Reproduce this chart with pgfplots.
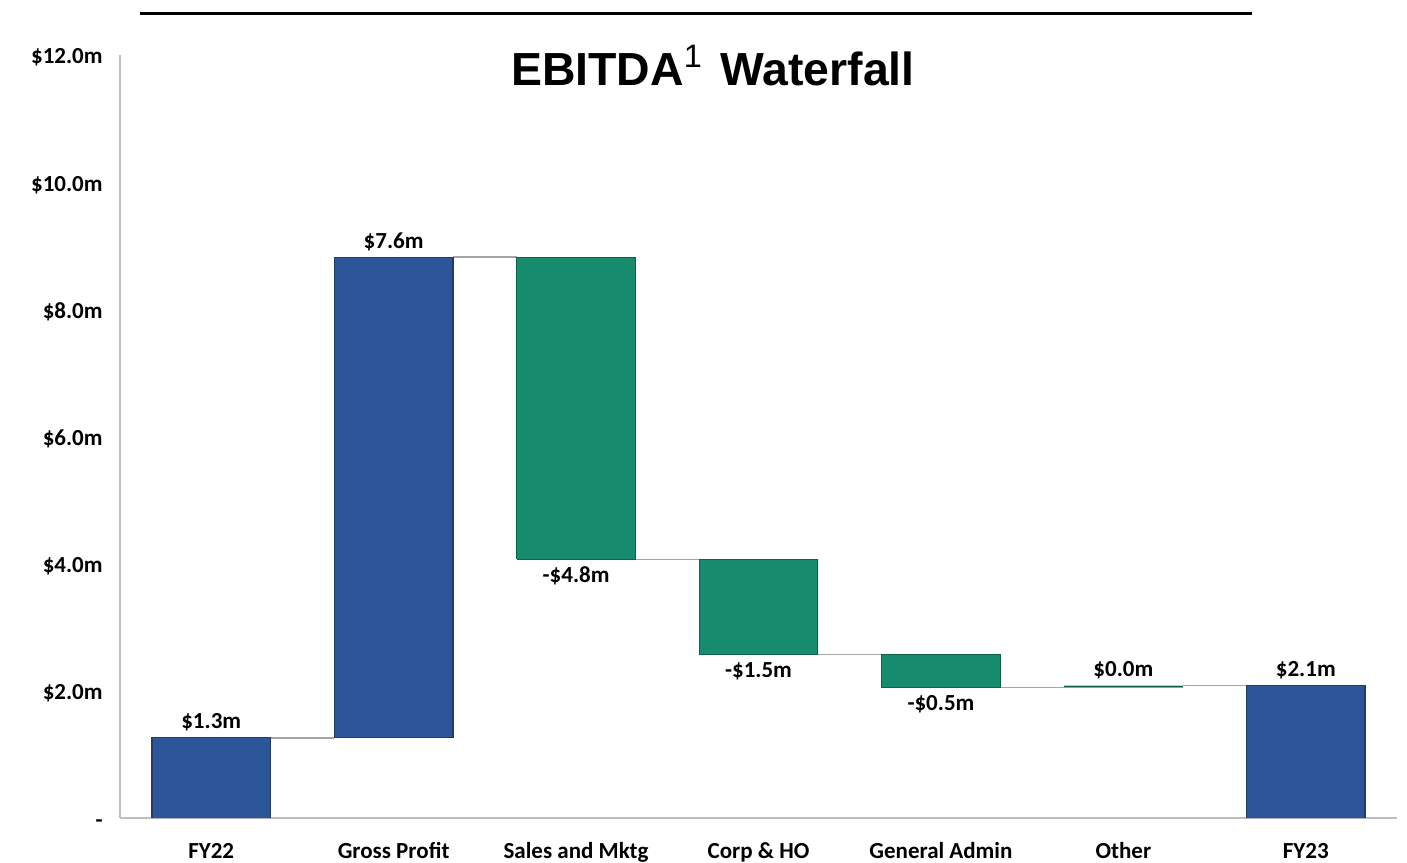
\documentclass[border=0pt]{standalone}
\usepackage{pgfplots}
\pgfplotsset{compat=1.18}
\usepackage{fontspec}
\setmainfont{Carlito}
\newfontfamily\arial{Liberation Sans}
\definecolor{barblue}{RGB}{44,85,154}
\definecolor{bargreen}{RGB}{22,139,109}
\definecolor{axisgrey}{RGB}{190,190,190}
\definecolor{conngrey}{RGB}{165,165,165}
\begin{document}
\begin{tikzpicture}
\useasboundingbox (-60pt,-22pt) rectangle (643.5pt,409pt);
\pgfplotsset{
  wfaxis/.style={
    scale only axis, width=638.5pt, height=381.5pt,
    xmin=-0.5, xmax=6.5, ymin=0, ymax=12,
    major tick length=0pt,
    tick label style={font=\fontsize{11.5}{13}\selectfont\bfseries},
  }
}
\begin{axis}[wfaxis,
  ybar stacked, bar width=59.5pt,
  axis x line=bottom, axis y line=left,
  axis line style={-, draw=axisgrey, line width=0.9pt},
  xtick={0,...,6},
  xticklabels={FY22, Gross Profit, Sales and Mktg, Corp \& HO, General Admin, Other, FY23},
  xticklabel style={anchor=base, inner sep=0pt, yshift=-20pt},
  ytick={0,2,4,6,8,10,12},
  yticklabels={-, \$2.0m, \$4.0m, \$6.0m, \$8.0m, \$10.0m, \$12.0m},
  yticklabel style={anchor=base east, inner sep=0pt, xshift=-8.5pt, yshift=-4.5pt},
]
% invisible base
\addplot[fill=none, draw=none] coordinates {(0,0) (1,1.26) (2,4.07) (3,2.57) (4,2.05) (5,2.05) (6,0)};
% increases / totals
\addplot[fill=barblue, draw=none] coordinates {(0,1.26) (1,7.56) (2,0) (3,0) (4,0) (5,0) (6,2.08)};
% decreases
\addplot[fill=bargreen, draw=none] coordinates {(0,0) (1,0) (2,4.75) (3,1.50) (4,0.52) (5,0.03) (6,0)};
\end{axis}
\begin{axis}[wfaxis, hide axis, clip=false]
% connectors
\addplot[conngrey, line width=0.7pt] coordinates {(0.325,1.26) (0.675,1.26)};
\addplot[conngrey, line width=0.7pt] coordinates {(1.325,8.82) (1.675,8.82)};
\addplot[conngrey, line width=0.7pt] coordinates {(2.325,4.07) (2.675,4.07)};
\addplot[conngrey, line width=0.7pt] coordinates {(3.325,2.57) (3.675,2.57)};
\addplot[conngrey, line width=0.7pt] coordinates {(4.325,2.05) (4.675,2.05)};
\addplot[conngrey, line width=0.7pt] coordinates {(5.325,2.08) (5.675,2.08)};
% bar borders (darker edges)
\addplot[draw=barblue!70!black, line width=0.6pt] coordinates {(-0.325,0) (-0.325,1.26) (0.325,1.26) (0.325,0)};
\addplot[draw=barblue!70!black, line width=0.6pt] coordinates {(0.675,1.26) (0.675,8.82) (1.325,8.82) (1.325,1.26) (0.675,1.26)};
\addplot[draw=bargreen!70!black, line width=0.6pt] coordinates {(1.675,4.07) (1.675,8.82) (2.325,8.82) (2.325,4.07) (1.675,4.07)};
\addplot[draw=bargreen!70!black, line width=0.6pt] coordinates {(2.675,2.57) (2.675,4.07) (3.325,4.07) (3.325,2.57) (2.675,2.57)};
\addplot[draw=bargreen!70!black, line width=0.6pt] coordinates {(3.675,2.05) (3.675,2.57) (4.325,2.57) (4.325,2.05) (3.675,2.05)};
\addplot[draw=bargreen!70!black, line width=0.6pt] coordinates {(4.675,2.07) (5.325,2.07)};
\addplot[draw=barblue!70!black, line width=0.6pt] coordinates {(5.675,0) (5.675,2.08) (6.325,2.08) (6.325,0)};
% positive labels
\addplot[draw=none, nodes near coords, point meta=explicit symbolic,
  every node near coord/.append style={anchor=base, inner sep=0pt, yshift=4.5pt,
    font=\fontsize{11.5}{13}\selectfont\bfseries}]
  coordinates {(0,1.26)[\$1.3m] (1,8.82)[\$7.6m] (5,2.08)[\$0.0m] (6,2.08)[\$2.1m]};
% negative labels
\addplot[draw=none, nodes near coords, point meta=explicit symbolic,
  every node near coord/.append style={anchor=base, inner sep=0pt, yshift=-11.5pt,
    font=\fontsize{11.5}{13}\selectfont\bfseries}]
  coordinates {(2,4.07)[-\$4.8m] (3,2.57)[-\$1.5m] (4,2.05)[-\$0.5m]};
\end{axis}
\draw[black, line width=1.5pt] (10pt,402pt) -- (566pt,402pt);
\node[font=\arial\fontsize{23.2}{27}\selectfont\bfseries, anchor=center]
  at (296.5pt,376pt) {EBITDA\textsuperscript{\mdseries 1}\hspace{0.1em} Waterfall};
\end{tikzpicture}
\end{document}
